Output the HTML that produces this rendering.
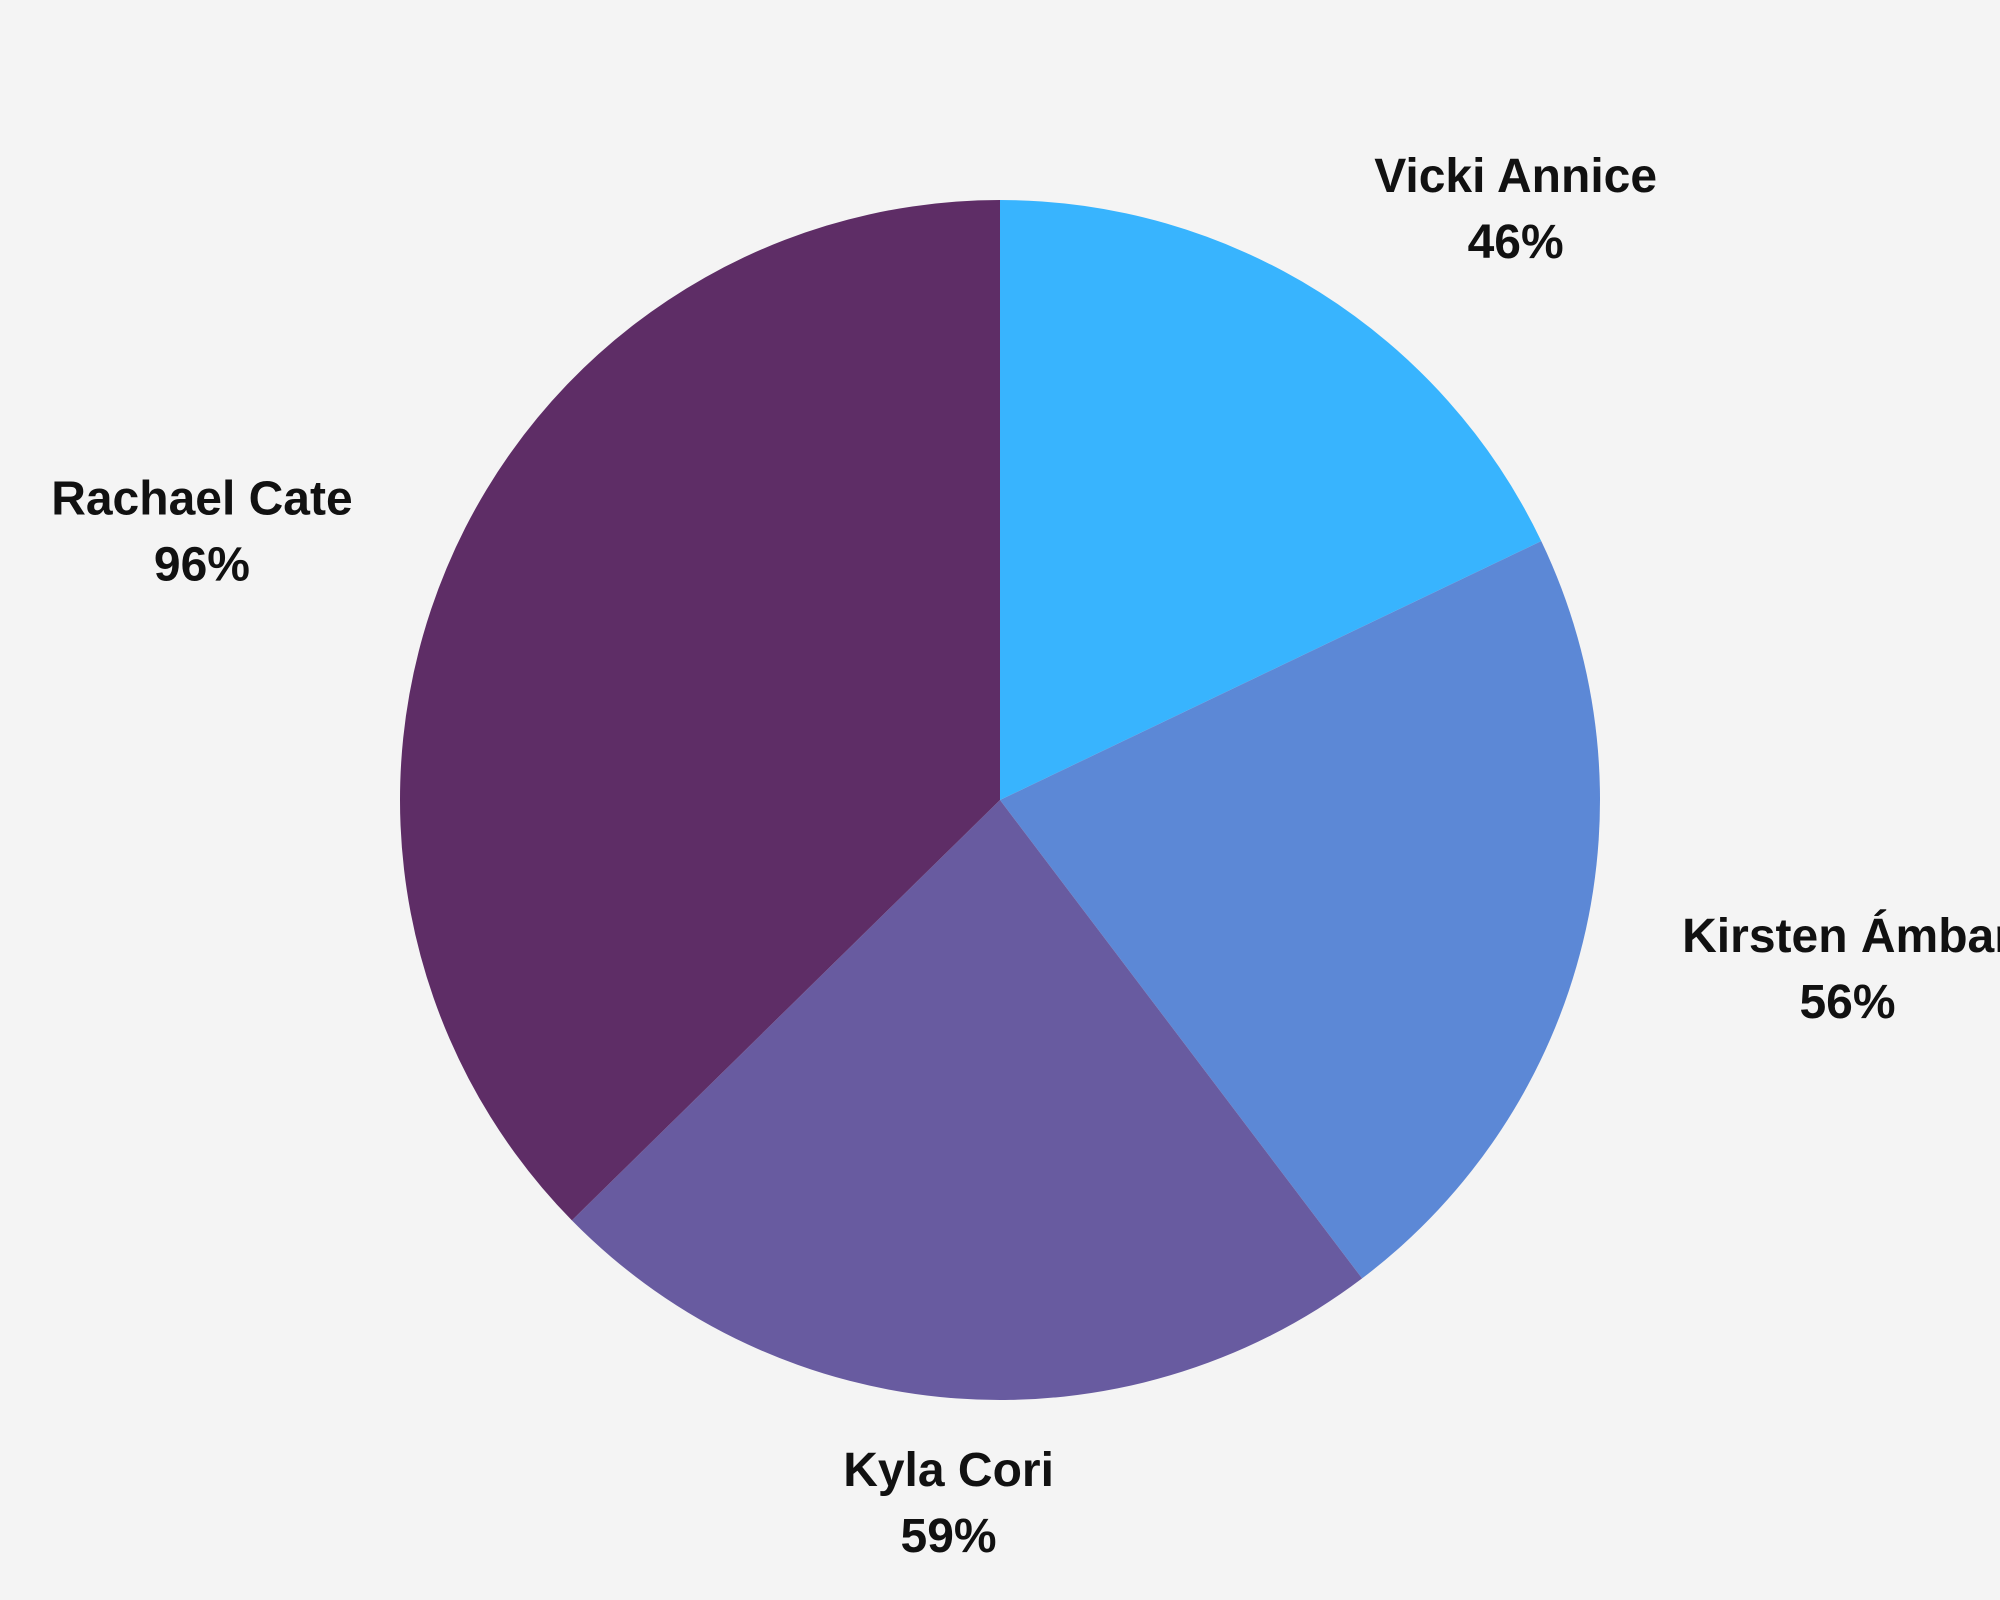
<!DOCTYPE html>
<html><head><meta charset="utf-8"><style>
html,body{margin:0;padding:0;background:#f4f4f4;}
svg{display:block;}
text{font-family:"Liberation Sans","DejaVu Sans",sans-serif;font-weight:bold;font-size:48px;fill:#111;}
</style></head><body>
<svg id="chart" width="2000" height="1600" viewBox="0 0 2000 1600" xmlns="http://www.w3.org/2000/svg">
<rect width="2000" height="1600" fill="#f4f4f4"/>
<g id="slices"></g><g id="labels"></g>
</svg>
<script>
const categories = ["Vicki Annice","Kirsten Ámbar","Kyla Cori","Rachael Cate"];
const values = [46,56,59,96];
const labelsText = ["46%","56%","59%","96%"];
const colors = ["#38b4fe","#5c88d6","#685ba0","#5e2d66"];
const cx=1000, cy=800, r=600;
const ns="http://www.w3.org/2000/svg";
const total=values.reduce((a,b)=>a+b,0);
const sg=document.getElementById('slices'), lg=document.getElementById('labels');
function pt(a,d){return [cx+d*Math.sin(a), cy-d*Math.cos(a)];}
let a0=0;
values.forEach((v,i)=>{
  const a1=a0+v/total*2*Math.PI;
  const p0=pt(a0,r), p1=pt(a1,r);
  const large=(a1-a0)>Math.PI?1:0;
  const path=document.createElementNS(ns,'path');
  path.setAttribute('d',`M${cx},${cy} L${p0[0]},${p0[1]} A${r},${r} 0 ${large} 1 ${p1[0]},${p1[1]} Z`);
  path.setAttribute('fill',colors[i]);
  
  
  sg.appendChild(path);
  const am=(a0+a1)/2;
  const p=pt(am,r*1.17);
  const g=document.createElementNS(ns,'g');
  
  
  const t1=document.createElementNS(ns,'text');
  t1.setAttribute('text-anchor','middle');
  t1.setAttribute('y',p[1]-14);
  t1.textContent=categories[i];
  
  
  const t2=document.createElementNS(ns,'text');
  t2.setAttribute('text-anchor','middle');
  t2.setAttribute('y',p[1]+52);
  t2.textContent=labelsText[i];
  
  
  g.appendChild(t1);g.appendChild(t2);lg.appendChild(g);
  const w=t1.getComputedTextLength();
  const s=Math.sin(am);
  const x=p[0]+(Math.abs(s)>0.2?Math.sign(s)*w/2:0);
  t1.setAttribute('x',x);t2.setAttribute('x',x);
  a0=a1;
});
</script>
</body></html>
